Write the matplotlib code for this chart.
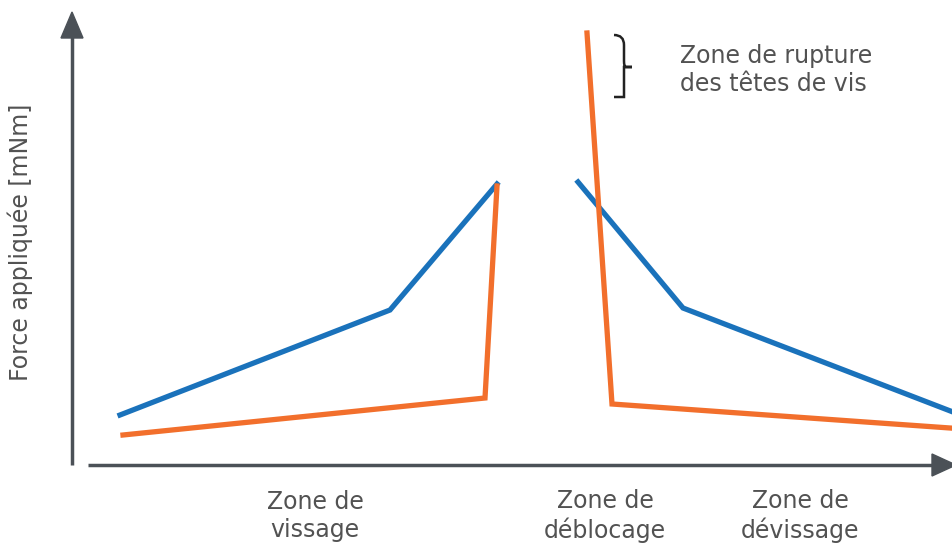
import matplotlib.pyplot as plt
from matplotlib.path import Path
from matplotlib.patches import PathPatch, Polygon

# valeurs (x vers la droite, y = force vers le haut)
blue_left_x = [120, 390, 497]
blue_left_y = [128, 233, 359]
orange_left_x = [123, 485, 497]
orange_left_y = [108, 145, 357]
blue_right_x = [578, 683, 953]
blue_right_y = [361, 235, 131]
orange_right_x = [587, 612, 950]
orange_right_y = [510, 139, 115]

zone_labels = ['Zone de\nvissage', 'Zone de\ndéblocage', 'Zone de\ndévissage']
zone_x = [315, 605, 800]
rupture_label = 'Zone de rupture\ndes têtes de vis'
y_label = 'Force appliquée [mNm]'

blue = '#1a72bb'
orange = '#f26f2c'
axis_col = '#4b5157'
text_col = '#525252'

fig = plt.figure(figsize=(9.53, 5.43), dpi=100)
ax = fig.add_axes([0, 0, 1, 1])
ax.set_xlim(0, 953)
ax.set_ylim(0, 543)
ax.axis('off')

# axes avec flèches
ax.plot([72, 72], [78, 510], color=axis_col, lw=2.5, solid_capstyle='butt')
ax.add_patch(Polygon([[61, 505], [83, 505], [72, 531]], closed=True, color=axis_col))
ax.plot([88, 935], [78, 78], color=axis_col, lw=2.5, solid_capstyle='butt')
ax.add_patch(Polygon([[932, 67], [932, 89], [956, 78]], closed=True, color=axis_col))

lw = 3.8
ax.plot(blue_left_x, blue_left_y, color=blue, lw=lw, solid_joinstyle='miter')
ax.plot(blue_right_x, blue_right_y, color=blue, lw=lw, solid_joinstyle='miter')
ax.plot(orange_left_x, orange_left_y, color=orange, lw=lw, solid_joinstyle='miter')
ax.plot(orange_right_x, orange_right_y, color=orange, lw=lw, solid_joinstyle='miter')

# accolade
verts = [(614, 508), (624, 508), (624, 498), (624, 482),
         (624, 476), (626, 476), (632, 476),
         (626, 476), (624, 476), (624, 470),
         (624, 455), (624, 446), (614, 446)]
codes = [Path.MOVETO, Path.CURVE3, Path.CURVE3, Path.LINETO,
         Path.CURVE3, Path.CURVE3, Path.LINETO,
         Path.CURVE3, Path.CURVE3, Path.LINETO,
         Path.CURVE3, Path.CURVE3, Path.LINETO]
ax.add_patch(PathPatch(Path(verts, codes), fill=False, color='#222222', lw=1.8))

ax.text(680, 473, rupture_label, ha='left', va='center', fontsize=17,
        color=text_col, linespacing=1.25)
ax.text(20, 301, y_label, rotation=90, ha='center', va='center',
        fontsize=17, color=text_col)
for x, lab in zip(zone_x, zone_labels):
    ax.text(x, 27, lab, ha='center', va='center', fontsize=17,
            color=text_col, linespacing=1.25)

fig.savefig('out.png', dpi=100)
